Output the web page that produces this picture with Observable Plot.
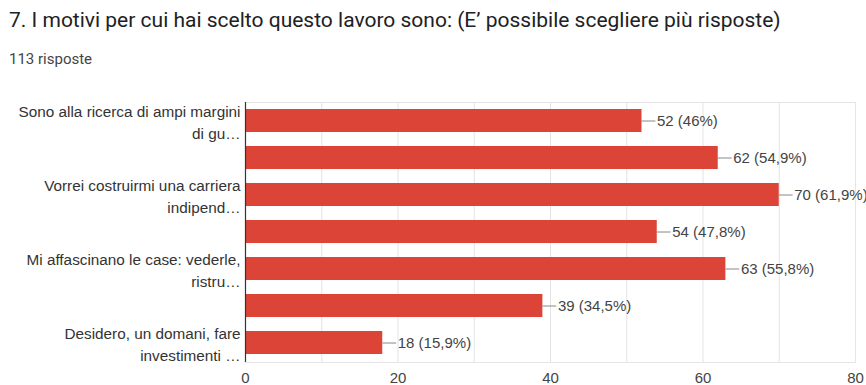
<!DOCTYPE html>
<html><head><meta charset="utf-8">
<script src="https://cdn.jsdelivr.net/npm/d3@7"></script>
<script src="https://cdn.jsdelivr.net/npm/@observablehq/plot@0.6"></script>
<style>
html,body{margin:0;padding:0;overflow:hidden;background:#fff;}
body{width:866px;height:385px;position:relative;}
#title{position:absolute;left:9px;top:10px;font-family:Roboto,sans-serif;font-size:21px;line-height:1;color:#202124;white-space:nowrap;}
#sub{position:absolute;left:9px;top:52px;font-family:Roboto,sans-serif;font-size:15px;line-height:1;color:#444;white-space:nowrap;}
#chart{position:absolute;left:0;top:85px;}
</style></head><body>
<div id="title">7. I motivi per cui hai scelto questo lavoro sono: (E’ possibile scegliere più risposte)</div>
<div id="sub">113 risposte</div>
<div id="chart"></div>
<script>
const labels = [
  "Sono alla ricerca di ampi margini\ndi gu…",
  "",
  "Vorrei costruirmi una carriera\nindipend…",
  "",
  "Mi affascinano le case: vederle,\nristru…",
  "",
  "Desidero, un domani, fare\ninvestimenti …"
];
const counts = [52, 62, 70, 54, 63, 39, 18];
const percents = ["46%", "54,9%", "61,9%", "47,8%", "55,8%", "34,5%", "15,9%"];
const xTicks = [0, 20, 40, 60, 80];
const gridTicks = [10, 20, 30, 40, 50, 60, 70];

const data = counts.map((c, i) => ({i, label: labels[i], count: c, pct: percents[i]}));
const font = "'Liberation Sans', Arial, sans-serif";

const leader = {draw(ctx, l) { ctx.moveTo(0, 0); ctx.lineTo(0, -l); }};

const chart = Plot.plot({
  width: 866,
  height: 300,
  marginTop: 17,
  marginBottom: 23,
  marginLeft: 245,
  marginRight: 11,
  style: {fontFamily: font, background: "transparent", overflow: "visible"},
  x: {domain: [0, 80], axis: null},
  y: {domain: d3.range(labels.length), paddingInner: 0.37, paddingOuter: 0.19, axis: null},
  marks: [
    Plot.gridX(gridTicks, {stroke: "#e3e3e3", strokeOpacity: 1}),
    Plot.frame({stroke: "#e6e6e6"}),
    Plot.barX(data, {x: "count", y: "i", fill: "#db4437"}),
    Plot.vector(data, {x: "count", y: "i", rotate: 90, length: 13, anchor: "start", shape: leader, stroke: "#888", strokeWidth: 1}),
    Plot.text(data, {x: "count", y: "i", text: d => `${d.count} (${d.pct})`, textAnchor: "start", dx: 15, fontSize: 15, fill: "#444"}),
    Plot.text(data, {x: 0, y: "i", text: "label", textAnchor: "end", dx: -5, fontSize: 15.3, lineHeight: 1.4, fill: "#333"}),
    Plot.ruleX([0], {stroke: "#333", strokeWidth: 1.2}),
    Plot.axisX(xTicks, {tickSize: 0, tickPadding: 10, fontSize: 15, fill: "#444", label: null})
  ]
});
document.getElementById("chart").appendChild(chart);
</script>
</body></html>
